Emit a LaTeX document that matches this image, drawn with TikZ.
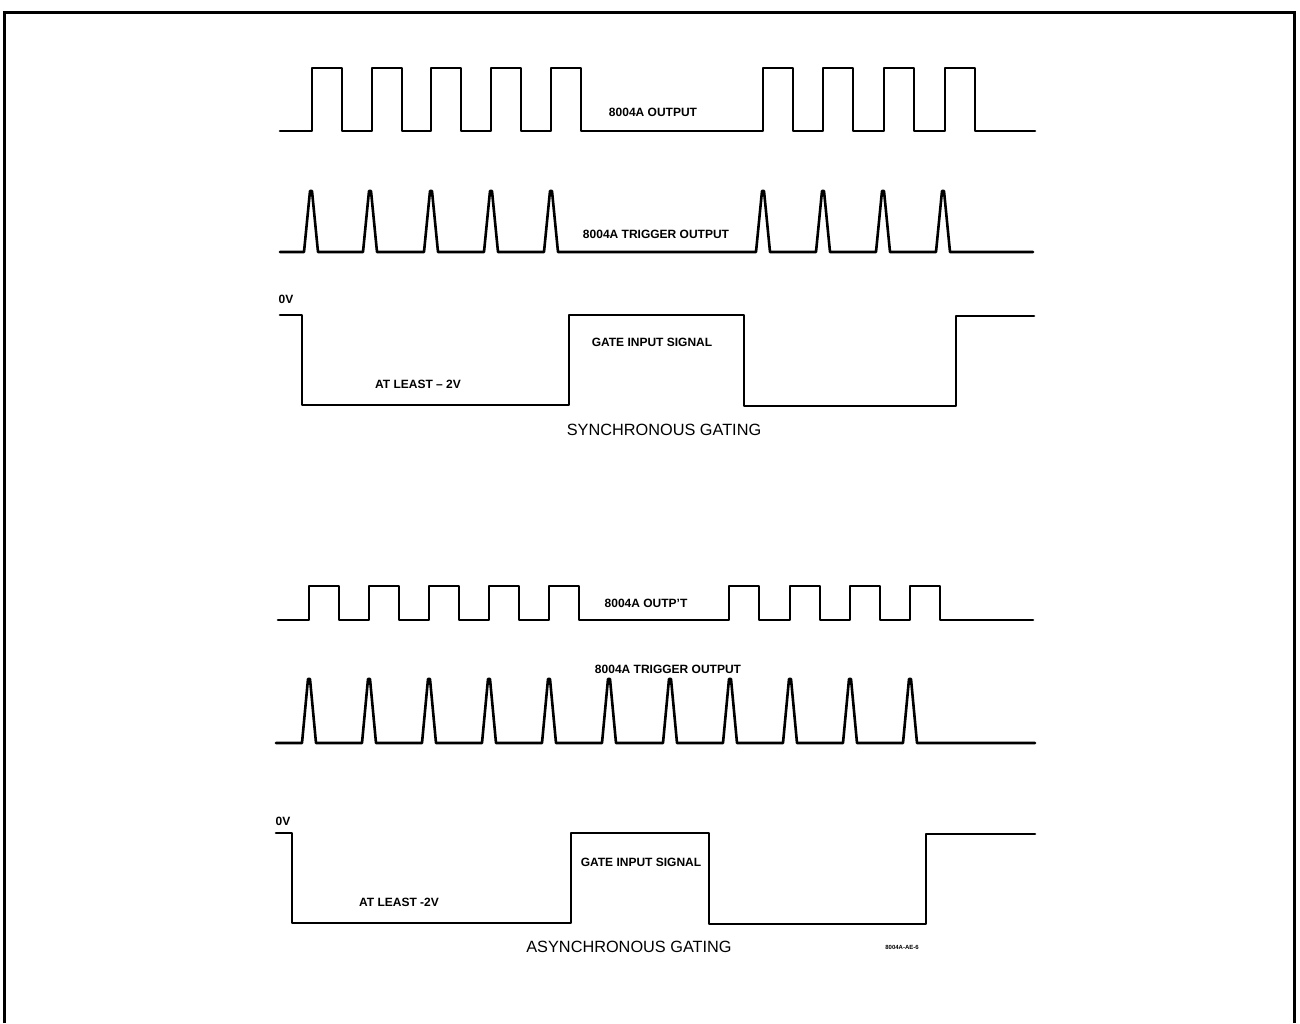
\documentclass[tikz,border=0pt]{standalone}
\usepackage{fontspec}
\setmainfont{Liberation Sans}
\usepackage{tikz}

\begin{document}
\begin{tikzpicture}[x=1pt, y=-1pt,
        sig/.style = {line width=2.6pt, line join=round, line cap=round},
        lbl/.style = {font=\bfseries\fontsize{12}{14}\selectfont, inner sep=0pt},
        ttl/.style = {font=\fontsize{16.3}{18}\selectfont, inner sep=0pt}]
                \useasboundingbox (0,0) rectangle (1300,1023);
                \draw[line width=3pt] (4,1023) -- (4,12) -- (1294,12) -- (1294,1023);
                % synchronous gating
                \draw[sig] (280,131) \foreach \x in {312,372,431,491,551,763,823,884,945}
                    { -- (\x,131) -- (\x,68) -- (\x+30,68) -- (\x+30,131) } -- (1035,131);
                \draw[sig] (280,252) \foreach \x in {311,370,431,491,551,763,823,883,943}
                    { -- (\x-7,252) -- (\x-1,191) -- (\x+1,191) -- (\x+7,252) } -- (1033,252);
                \draw[sig] (280,315) -- (302,315) -- (302,405) -- (569,405) -- (569,315)
                    -- (744,315) -- (744,406) -- (956,406) -- (956,316) -- (1034,316);
                \node[lbl] (out1) at (653,112) {8004A OUTPUT};
                \node[lbl] (trig1) at (656,234) {8004A TRIGGER OUTPUT};
                \node[lbl] (ov1) at (286,299) {0V};
                \node[lbl] (gate1) at (652,342) {GATE INPUT SIGNAL};
                \node[lbl] (least1) at (418,384) {AT LEAST -- 2V};
                \node[ttl] (sync) at (664,430) {SYNCHRONOUS GATING};
                % asynchronous gating
                \draw[sig] (278,620) \foreach \x in {309,369,429,489,549,729,790,850,910}
                    { -- (\x,620) -- (\x,586) -- (\x+30,586) -- (\x+30,620) } -- (1033,620);
                \draw[sig] (276,743) \foreach \x in {309,369,429,489,549,609,670,730,790,850,910}
                    { -- (\x-7,743) -- (\x-1,679) -- (\x+1,679) -- (\x+7,743) } -- (1035,743);
                \draw[sig] (276,833) -- (292,833) -- (292,923) -- (571,923) -- (571,833)
                    -- (709,833) -- (709,924) -- (926,924) -- (926,834) -- (1035,834);
                \node[lbl] (out2) at (646,603) {8004A OUTP'T};
                \node[lbl] (trig2) at (668,669) {8004A TRIGGER OUTPUT};
                \node[lbl] (ov2) at (283,821) {0V};
                \node[lbl] (gate2) at (641,862) {GATE INPUT SIGNAL};
                \node[lbl] (least2) at (399,902) {AT LEAST -2V};
                \node[ttl] (async) at (629,947) {ASYNCHRONOUS GATING};
                \node[lbl, font=\bfseries\fontsize{6}{7}\selectfont] (fig) at (902,947) {8004A-AE-6};
            \end{tikzpicture}
\end{document}
